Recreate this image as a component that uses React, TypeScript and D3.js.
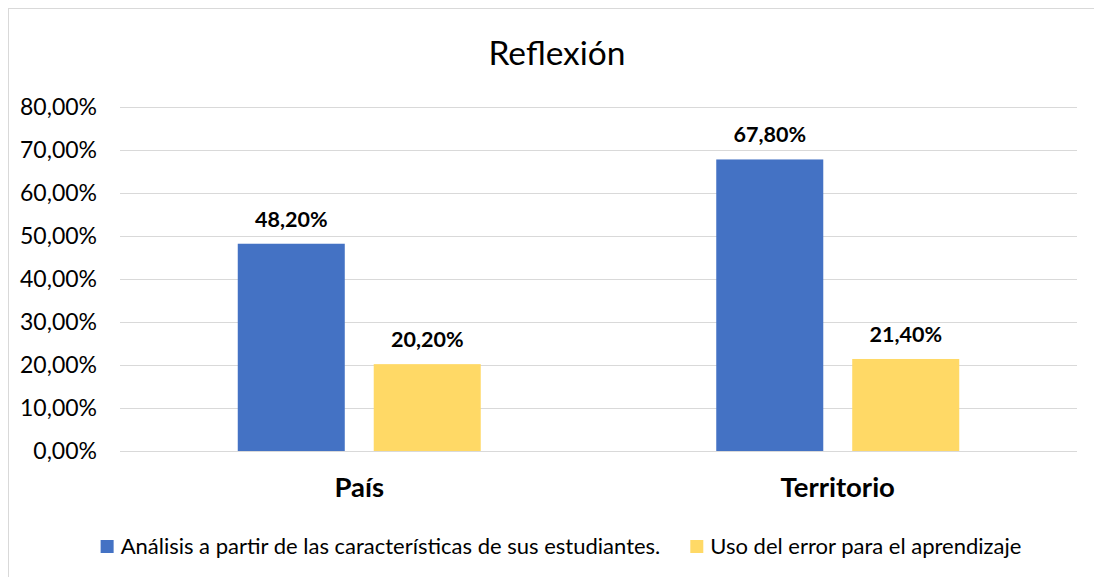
import React, { useEffect, useRef } from 'react';
import * as d3 from 'd3';

const categories = ['País', 'Territorio'];
const seriesNames = [
  'Análisis a partir de las características de sus estudiantes.',
  'Uso del error para el aprendizaje',
];
const analisisValues = [48.2, 67.8];
const errorValues = [20.2, 21.4];
const yTicks = [0, 10, 20, 30, 40, 50, 60, 70, 80];
const colors = ['#4472C4', '#FFD966'];

const FONT = 'Lato, "Open Sans", "DejaVu Sans", sans-serif';

const fmt = (v: number) => v.toFixed(2).replace('.', ',') + '%';

const App = () => {
  const svgRef = useRef<SVGSVGElement>(null);

  useEffect(() => {
    const svg = d3.select(svgRef.current);
    svg.selectAll('*').remove();

    const W = 1094;
    const H = 577;
    const plot = { left: 120, right: 1077, top: 107, bottom: 451 };

    // chart border (runs off the right/bottom edge like the reference)
    svg.append('rect')
      .attr('x', 8.5).attr('y', 8.5)
      .attr('width', W + 20).attr('height', H + 20)
      .attr('fill', '#fff').attr('stroke', '#d9d9d9').attr('stroke-width', 1);

    svg.append('text')
      .attr('x', 557).attr('y', 65)
      .attr('text-anchor', 'middle')
      .attr('font-family', FONT).attr('font-size', 33.5)
      .attr('fill', '#000')
      .text('Reflexión');

    const y = d3.scaleLinear().domain([0, 80]).range([plot.bottom, plot.top]);
    const x0 = d3.scaleBand().domain(categories).range([plot.left, plot.right]).padding(0);
    const x1 = d3.scaleBand<number>()
      .domain([0, 1])
      .range([0, x0.bandwidth()])
      .paddingInner(0.213)
      .paddingOuter(0.866);

    // gridlines + y labels
    const grid = svg.append('g');
    grid.selectAll('line')
      .data(yTicks)
      .enter()
      .append('line')
      .attr('x1', plot.left).attr('x2', plot.right)
      .attr('y1', d => Math.round(y(d)) + 0.5).attr('y2', d => Math.round(y(d)) + 0.5)
      .attr('stroke', '#d9d9d9').attr('stroke-width', 1);

    grid.selectAll('text')
      .data(yTicks)
      .enter()
      .append('text')
      .attr('x', 97).attr('y', d => y(d) + 7.5)
      .attr('text-anchor', 'end')
      .attr('font-family', FONT).attr('font-size', 23)
      .attr('fill', '#000')
      .text(d => fmt(d));

    const rows = categories.map((c, i) => ({ cat: c, vals: [analisisValues[i], errorValues[i]] }));

    const groups = svg.append('g')
      .selectAll('g')
      .data(rows)
      .enter()
      .append('g')
      .attr('transform', d => `translate(${x0(d.cat)},0)`);

    groups.selectAll('rect')
      .data(d => d.vals.map((v, s) => ({ v, s })))
      .enter()
      .append('rect')
      .attr('x', d => x1(d.s)!)
      .attr('width', x1.bandwidth())
      .attr('y', d => y(d.v))
      .attr('height', d => y(0) - y(d.v))
      .attr('fill', d => colors[d.s]);

    groups.selectAll('text.lbl')
      .data(d => d.vals.map((v, s) => ({ v, s })))
      .enter()
      .append('text')
      .attr('class', 'lbl')
      .attr('x', d => x1(d.s)! + x1.bandwidth() / 2)
      .attr('y', d => y(d.v) - 17)
      .attr('text-anchor', 'middle')
      .attr('font-family', FONT).attr('font-size', 21.5).attr('font-weight', 'bold')
      .attr('fill', '#000')
      .text(d => fmt(d.v));

    // category labels
    svg.append('g')
      .selectAll('text')
      .data(categories)
      .enter()
      .append('text')
      .attr('x', d => x0(d)! + x0.bandwidth() / 2)
      .attr('y', 497)
      .attr('text-anchor', 'middle')
      .attr('font-family', FONT).attr('font-size', 27.5).attr('font-weight', 'bold')
      .attr('fill', '#000')
      .text(d => d);

    // legend
    const legend = svg.append('g');
    const items = legend.selectAll('g')
      .data(seriesNames)
      .enter()
      .append('g');
    items.append('rect')
      .attr('width', 13).attr('height', 13)
      .attr('y', 540)
      .attr('fill', (_, i) => colors[i]);
    items.append('text')
      .attr('x', 20).attr('y', 554)
      .attr('font-family', FONT).attr('font-size', 22)
      .attr('fill', '#000')
      .text(d => d);

    const widths: number[] = [];
    items.each(function () {
      const t = d3.select(this).select('text').node() as SVGTextElement;
      widths.push(20 + t.getComputedTextLength());
    });
    const gap = 30;
    const total = widths[0] + gap + widths[1];
    let cx = 561 - total / 2;
    items.attr('transform', (_, i) => {
      const tx = cx;
      cx += widths[i] + gap;
      return `translate(${tx},0)`;
    });
  }, []);

  return (
    <svg
      ref={svgRef}
      width={1094}
      height={577}
      style={{ position: 'absolute', left: 0, top: 0, background: '#fff' }}
    />
  );
};

export default App;
